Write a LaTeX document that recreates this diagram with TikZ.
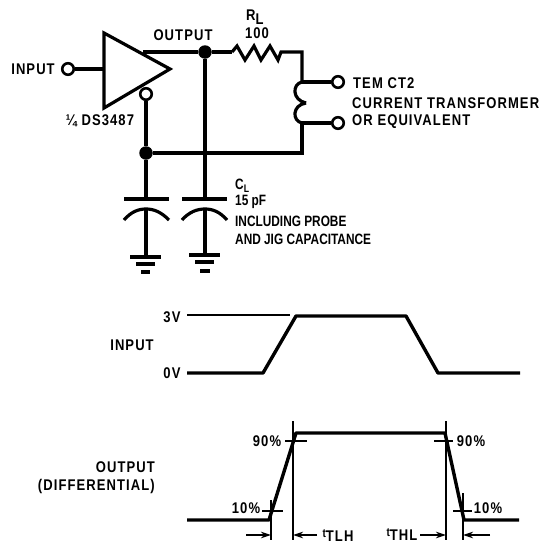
\documentclass[tikz,border=0pt]{standalone}
\usepackage{fontspec}
\setmainfont[FakeStretch=0.84,LetterSpace=7]{Liberation Sans}
\newfontfamily\narrowfont[FakeStretch=0.79]{Liberation Sans}
\usetikzlibrary{arrows.meta}

\tikzset{
  wire/.style={line width=3.2pt},
  thin wire/.style={line width=1.1pt},
  wave/.style={line width=3.4pt, line join=round},
  terminal/.style={circle, draw, line width=2.6pt, fill=white, minimum size=11.5pt, inner sep=0pt},
  junction/.style={circle, fill=black, minimum size=13.5pt, inner sep=0pt},
  lbl/.style={inner sep=0pt, font=\fontsize{15.5}{17}\selectfont\bfseries},
  small lbl/.style={inner sep=0pt, font=\fontsize{15}{17}\selectfont\narrowfont\bfseries},
  dim/.style={thin wire, -{Stealth[length=10pt,width=6.5pt]}}
}

\begin{document}
\begin{tikzpicture}[x=1pt,y=-1pt]
\useasboundingbox (0,0) rectangle (540,544);

% define the circuit points
  \node[terminal] (in)   at (68,69)   {};
  \node[terminal] (en)   at (146,94)  {};
  \node[terminal] (t1)   at (338,82)  {};
  \node[terminal] (t2)   at (338,123) {};
  \node[junction] (outp) at (205,52)  {};
  \node[junction] (gnd)  at (146,153) {};
  \coordinate (ampin)  at (104,69);
  \coordinate (ampout) at (143,52);
  \coordinate (rl1)    at (232,52);
  \coordinate (rl2)    at (281,52);
  \coordinate (corner) at (302,52);
  \coordinate (coil1)  at (302,82);
  \coordinate (coil2)  at (302,123);
  \coordinate (botr)   at (302,153);
  \coordinate (plate1) at (146,199);
  \coordinate (plate2) at (205,199);
  \coordinate (curve1) at (146,209);
  \coordinate (curve2) at (205,209);
  \coordinate (earth1) at (146,257);
  \coordinate (earth2) at (205,255);

% define the links
  \draw[wire, line join=miter] (104,33) -- (170,69) -- (104,108) -- cycle;
  \draw[wire] (in) -- (ampin);
  \draw[wire] (ampout) -- (outp) -- (rl1);
  \draw[wire, line join=miter] (rl1) -- (237,46) -- (245,60) -- (254,46) -- (261,60) -- (270,46) -- (278,60) -- (rl2) -- (corner) -- (coil1);
  \draw[wire] (coil1) -- (t1);
  \draw[wire] (coil2) -- (t2);
  \draw[wire] (coil1) .. controls (292,84) and (292,100) .. (306,103);
  \draw[wire] (306,103) .. controls (292,105) and (292,121) .. (coil2);
  \draw[wire, line join=miter] (coil2) -- (botr) -- (gnd);
  \draw[wire] (en) -- (gnd) -- (plate1);
  \draw[wire] (outp) -- (plate2);
  \draw[wire] (124,199) -- (169,199);
  \draw[wire] (182,199) -- (227,199);
  \draw[wire] (124,220) .. controls (131,212) and (138,209) .. (curve1) .. controls (154,209) and (161,212) .. (169,220);
  \draw[wire] (182,220) .. controls (189,212) and (197,209) .. (curve2) .. controls (213,209) and (220,212) .. (227,220);
  \draw[wire] (curve1) -- (earth1);
  \draw[wire] (curve2) -- (earth2);
  \draw[wire] (130,257) -- (161,257);
  \draw[wire] (136,264) -- (155,264);
  \draw[wire] (141,272) -- (150,272);
  \draw[wire] (189,255) -- (220,255);
  \draw[wire] (195,262) -- (214,262);
  \draw[wire] (200,271) -- (210,271);

% circuit labels
  \node[lbl]       (lin)  at (33,69)   {INPUT};
  \node[lbl]       (lout) at (183,35)  {OUTPUT};
  \node[lbl, anchor=base west] (lrl) at (246,20) {R\raisebox{-4pt}{L}};
  \node[lbl]       (lr)   at (257,33)  {100};
  \node[lbl]       (lds)  at (100,121) {¼ DS3487};
  \node[lbl, anchor=west]       (ltem) at (353,83)  {TEM CT2};
  \node[lbl, anchor=west]       (lcur) at (352,103) {CURRENT TRANSFORMER};
  \node[lbl, anchor=west]       (lor)  at (352,122) {OR EQUIVALENT};
  \node[small lbl, anchor=base west] (lcl)  at (235,189) {C\raisebox{-3pt}{\fontsize{11}{11}\selectfont L}};
  \node[small lbl, anchor=west] (lpf)  at (235,202) {15 pF};
  \node[small lbl, anchor=west] (linc) at (235,221) {INCLUDING PROBE};
  \node[small lbl, anchor=west] (ljig) at (235,239) {AND JIG CAPACITANCE};

% input waveform
  \draw[thin wire] (187,315) -- (290,315);
  \draw[wave] (187,373) -- (263,373) -- (296,316) -- (406,316) -- (438,373) -- (520,373);
  \node[lbl] (l3v)  at (172,317) {3V};
  \node[lbl] (l0v)  at (172,373) {0V};
  \node[lbl] (lwin) at (132,345) {INPUT};

% output waveform
  \draw[wave] (187,520) -- (269,520) -- (296,433) -- (445,433) -- (464,520) -- (519,520);
  \draw[thin wire] (293,421) -- (293,540);
  \draw[thin wire] (446,421) -- (446,540);
  \draw[thin wire] (271,500) -- (271,540);
  \draw[thin wire] (463,493) -- (463,540);
  \draw[thin wire] (285,441) -- (307,441);
  \draw[thin wire] (434,441) -- (453,441);
  \draw[thin wire] (262,511) -- (283,511);
  \draw[thin wire] (453,511) -- (472,511);
  \coordinate (a1) at (246,535);
  \coordinate (b1) at (271,535);
  \coordinate (a2) at (317,535);
  \coordinate (b2) at (293,535);
  \coordinate (a3) at (420,535);
  \coordinate (b3) at (446,535);
  \coordinate (a4) at (490,535);
  \coordinate (b4) at (463,535);
  \draw[dim] (a1) -- (b1);
  \draw[dim] (a2) -- (b2);
  \draw[dim] (a3) -- (b3);
  \draw[dim] (a4) -- (b4);
  \node[lbl] (l90a) at (267,441) {90\%};
  \node[lbl] (l90b) at (471,441) {90\%};
  \node[lbl] (l10a) at (246,508) {10\%};
  \node[lbl] (l10b) at (488,508) {10\%};
  \node[lbl, anchor=base] (ltlh) at (338,541) {\raisebox{4pt}{\fontsize{12}{12}\selectfont t}TLH};
  \node[lbl, anchor=base] (lthl) at (402,540) {\raisebox{4pt}{\fontsize{12}{12}\selectfont t}THL};
  \node[lbl, anchor=east] (lwout) at (155,467) {OUTPUT};
  \node[lbl, anchor=east] (ldiff) at (155,486) {(DIFFERENTIAL)};
\end{tikzpicture}
\end{document}
